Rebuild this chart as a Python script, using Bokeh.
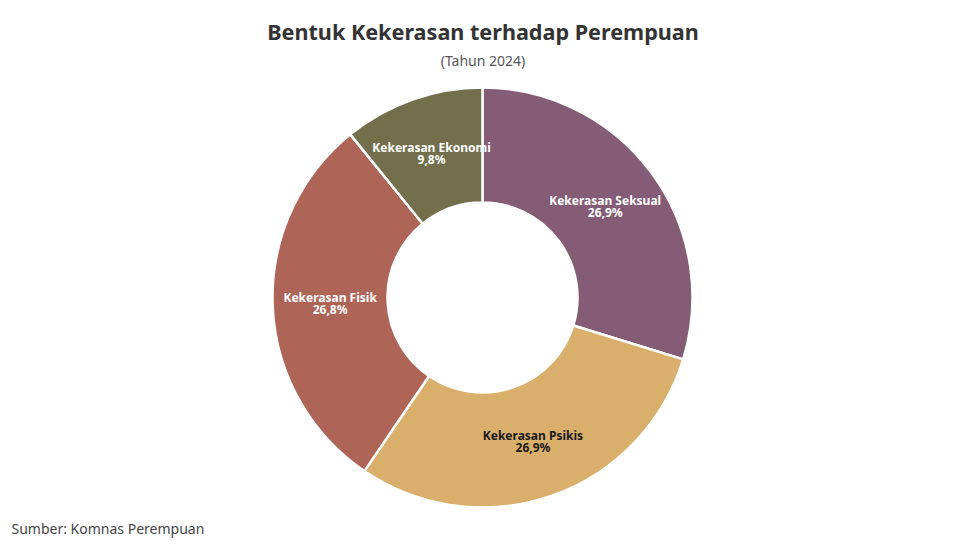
import math
from bokeh.plotting import figure
from bokeh.models import Range1d, ColumnDataSource
from bokeh.core.properties import value
from bokeh.embed import file_html
from bokeh.resources import INLINE

# ---- data ----
categories = ["Kekerasan Seksual", "Kekerasan Psikis", "Kekerasan Fisik", "Kekerasan Ekonomi"]
values = [26.9, 26.9, 26.8, 9.8]
colors = ["#855C75", "#D9AF6B", "#AF6458", "#736F4C"]
label_colors = ["#FFFFFF", "#1A1A1A", "#FFFFFF", "#FFFFFF"]
title_text = "Bentuk Kekerasan terhadap Perempuan"
subtitle_text = "(Tahun 2024)"
source_text = "Sumber: Komnas Perempuan"

W, H = 949, 538
CX, CY = 482, 241
R_OUT, R_IN = 210, 95
FONT = "Noto Sans"

total = sum(values)
starts, ends, lx, ly, pct = [], [], [], [], []
cum = 0.0
for v in values:
    a0 = math.pi / 2 - 2 * math.pi * cum / total
    a1 = math.pi / 2 - 2 * math.pi * (cum + v) / total
    starts.append(a1)
    ends.append(a0)
    mid = (a0 + a1) / 2
    rm = (R_OUT + R_IN) / 2
    lx.append(CX + rm * math.cos(mid))
    ly.append(CY + rm * math.sin(mid))
    pct.append(f"{v:.1f}".replace(".", ",") + "%")
    cum += v

src = ColumnDataSource(dict(cat=categories, val=values, color=colors, lc=label_colors,
                            start=starts, end=ends, x=lx, y=ly, pct=pct,
                            cx=[CX] * 4, cy=[CY] * 4))

p = figure(width=W, height=H, output_backend="svg", toolbar_location=None,
           x_range=Range1d(0, W), y_range=Range1d(0, H), min_border=0)
p.axis.visible = False
p.grid.visible = False
p.outline_line_color = None
p.background_fill_color = "white"
p.border_fill_color = "white"

p.annular_wedge(x="cx", y="cy", inner_radius=R_IN, outer_radius=R_OUT,
                start_angle="start", end_angle="end", direction="anticlock",
                fill_color="color", line_color="white", line_width=2.5,
                line_join="round", source=src)

p.text(x="x", y="y", text="cat", text_color="lc", text_font=value(FONT),
       text_font_style="bold", text_font_size="12px", text_align="center",
       text_baseline="middle", y_offset=-6, source=src)
p.text(x="x", y="y", text="pct", text_color="lc", text_font=value(FONT),
       text_font_style="bold", text_font_size="12px", text_align="center",
       text_baseline="middle", y_offset=6, source=src)

p.text(x=[CX + 0.5], y=[H - 31], text=[title_text], text_color="#333333",
       text_font=value(FONT), text_font_style="bold", text_font_size="21.6px",
       text_align="center", text_baseline="middle")
p.text(x=[CX + 0.5], y=[H - 60], text=[subtitle_text], text_color="#555555",
       text_font=value(FONT), text_font_size="14px",
       text_align="center", text_baseline="middle")
p.text(x=[11], y=[1], text=[source_text], text_color="#444444",
       text_font=value(FONT), text_font_size="14px",
       text_align="left", text_baseline="bottom")

open("out.html", "w").write(file_html(p, INLINE))
